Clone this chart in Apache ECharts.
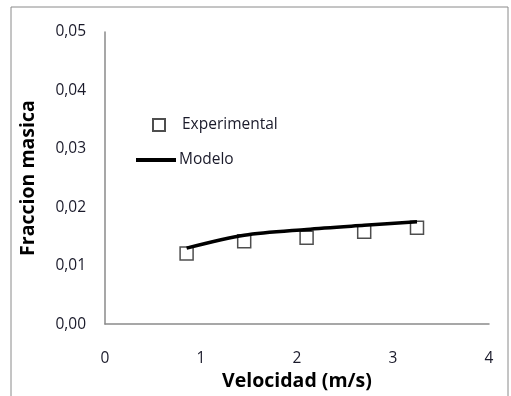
<!DOCTYPE html>
<html><head><meta charset="utf-8">
<script src="https://cdn.jsdelivr.net/npm/echarts@6/dist/echarts.min.js"></script>
<style>html,body{margin:0;padding:0;background:#fff}#c{width:511px;height:396px}</style>
</head><body><div id="c"></div>
<script>
const velocidad = [0.85, 1.45, 2.10, 2.70, 3.25];
const experimental = [0.0121, 0.0142, 0.0148, 0.0158, 0.0165];
const modelo = [0.0130, 0.0152, 0.0162, 0.0169, 0.0175];
const xTicks = [0, 1, 2, 3, 4];
const yTicks = [0, 0.01, 0.02, 0.03, 0.04, 0.05];

const F = '"Open Sans", sans-serif';
const chart = echarts.init(document.getElementById('c'));
chart.setOption({
  animation: false,
  textStyle: {fontFamily: F},
  graphic: [{type: 'rect', shape: {x: 11, y: 7, width: 497, height: 400},
    style: {fill: 'none', stroke: '#8a8a8a', lineWidth: 1}, z: -1}],
  grid: {left: 105, top: 32, right: 22, bottom: 70},
  xAxis: {type: 'value', min: xTicks[0], max: xTicks[xTicks.length-1], interval: 1,
    name: 'Velocidad (m/s)', nameLocation: 'middle', nameGap: 46,
    nameTextStyle: {fontSize: 19.5, fontWeight: 'bold', color: '#000', fontFamily: F},
    axisLine: {lineStyle: {color: '#8a8a8a', width: 1.5}}, axisTick: {show: false},
    splitLine: {show: false},
    axisLabel: {fontSize: 15.5, color: '#1a1a2a', margin: 26, fontFamily: F}},
  yAxis: {type: 'value', min: yTicks[0], max: yTicks[yTicks.length-1], interval: 0.01,
    name: 'Fraccion masica', nameLocation: 'middle', nameGap: 67,
    nameTextStyle: {fontSize: 19.5, fontWeight: 'bold', color: '#000', fontFamily: F},
    axisLine: {show: true, lineStyle: {color: '#8a8a8a', width: 1.5}}, axisTick: {show: false},
    splitLine: {show: false},
    axisLabel: {fontSize: 15.5, color: '#1a1a2a', margin: 19, fontFamily: F,
      formatter: v => v.toFixed(2).replace('.', ',')}},
  legend: [
    {data: ['Experimental'], left: 147, top: 112, itemWidth: 12, itemHeight: 12,
      textStyle: {fontSize: 15.5, color: '#1a1a2a', padding: [0, 0, 0, 12], fontFamily: F}},
    {data: [{name: 'Modelo', icon: 'rect'}], left: 131, top: 147, itemWidth: 40, itemHeight: 4,
      itemGap: 0,
      textStyle: {fontSize: 15.5, color: '#1a1a2a', padding: [0, 0, 0, -2], fontFamily: F}}
  ],
  series: [
    {name: 'Modelo', type: 'line', data: velocidad.map((v, i) => [v, modelo[i]]),
      smooth: 0.3, showSymbol: false, symbol: 'none',
      lineStyle: {color: '#000', width: 3.5}, itemStyle: {color: '#000'}, z: 3},
    {name: 'Experimental', type: 'scatter', data: velocidad.map((v, i) => [v, experimental[i]]),
      symbol: 'rect', symbolSize: 13,
      itemStyle: {color: 'rgba(255,255,255,0)', borderColor: '#222', borderWidth: 1.5}, z: 2}
  ]
});
</script></body></html>
